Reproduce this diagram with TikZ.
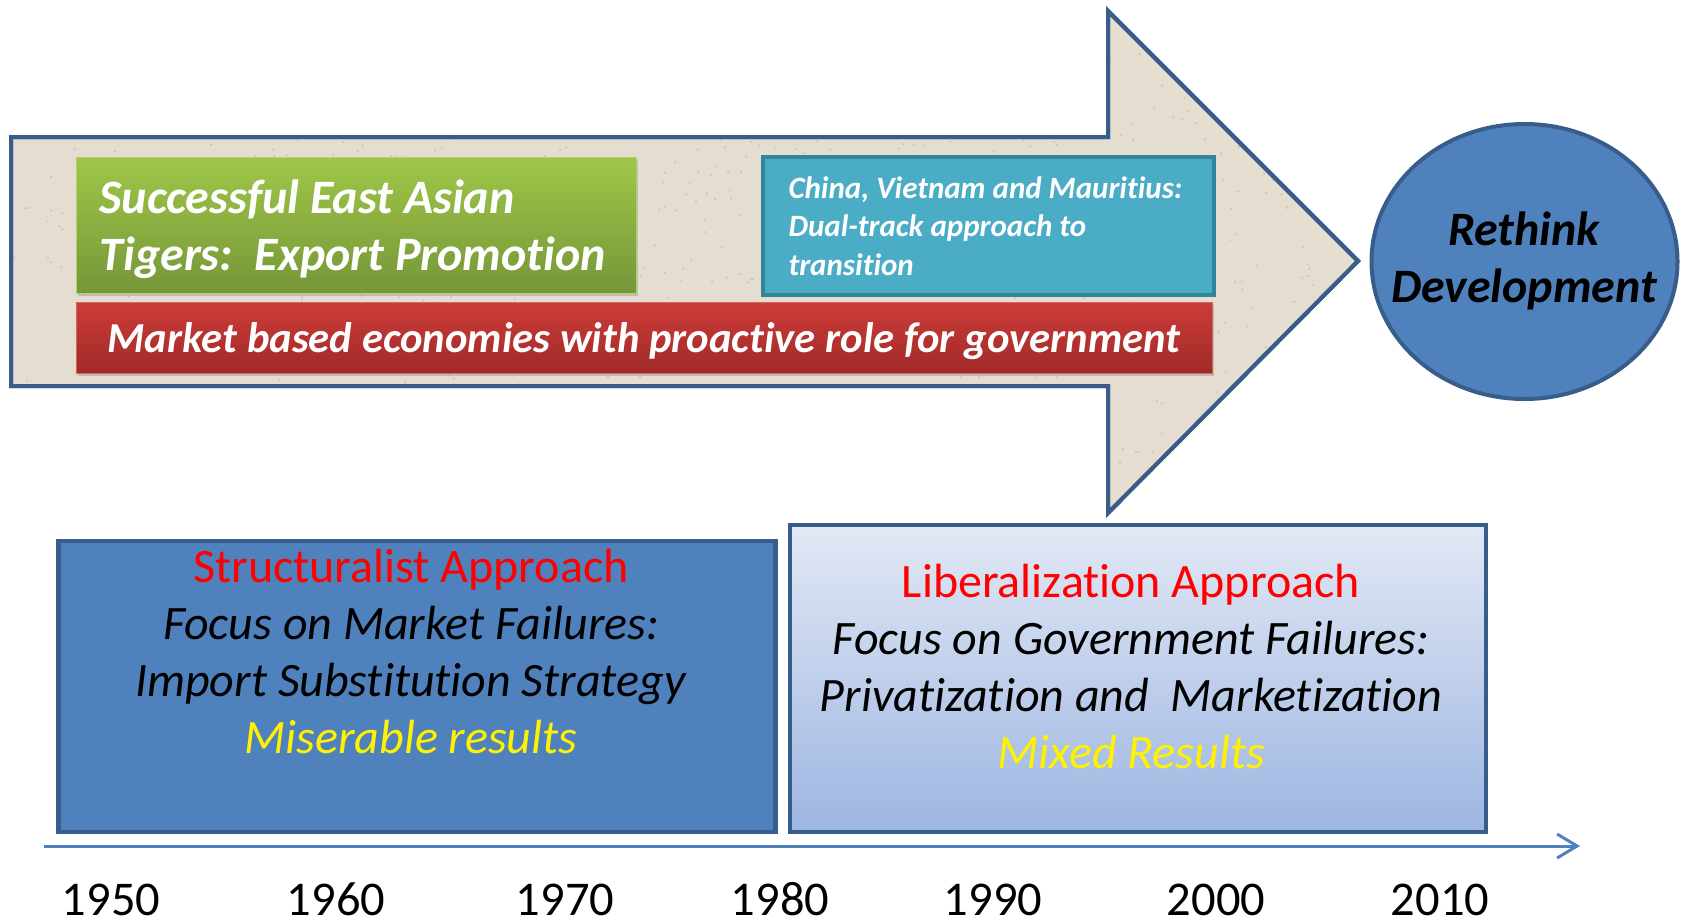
\documentclass[tikz,border=0pt]{standalone}
\usepackage{fontspec}
\setmainfont{Carlito}[Ligatures=NoCommon]
\usetikzlibrary{shapes.geometric,shadows,arrows.meta}
\definecolor{arrowfill}{RGB}{228,221,208}
\definecolor{arrowdot}{RGB}{170,160,145}
\definecolor{darkblue}{RGB}{56,93,138}
\definecolor{midblue}{RGB}{79,129,189}
\definecolor{greentop}{RGB}{158,199,72}
\definecolor{greenbot}{RGB}{118,150,57}
\definecolor{redtop}{RGB}{204,60,56}
\definecolor{redbot}{RGB}{160,42,40}
\definecolor{dualfill}{RGB}{75,172,198}
\definecolor{dualedge}{RGB}{49,133,156}
\definecolor{paletop}{RGB}{226,232,244}
\definecolor{palebot}{RGB}{157,182,226}

\begin{document}
\begin{tikzpicture}[x=1pt, y=-1pt, >={Straight Barb[length=20pt,width=24pt]},
	panel/.style={rectangle, draw=darkblue, line width=4.5pt, inner sep=0pt},
	banner/.style={rectangle, inner sep=0pt, drop shadow={opacity=0.35, shadow xshift=2pt, shadow yshift=-3pt}},
	bigtext/.style={font=\fontsize{48}{57}\selectfont, align=center, anchor=base},
	year/.style={font=\fontsize{48.5}{57}\selectfont, anchor=base}]
	\useasboundingbox (0,0) rectangle (1683,922);
	% the big arrow
	\draw[fill=arrowfill, draw=darkblue, line width=4pt] (11,137) -- (1108,137) -- (1108,11) -- (1358,261) -- (1108,513) -- (1108,386) -- (11,386) -- cycle;
	\begin{scope}
		\clip (11,137) -- (1108,137) -- (1108,11) -- (1358,261) -- (1108,513) -- (1108,386) -- (11,386) -- cycle;
		\pgfmathsetseed{17}
		\foreach \k in {1,...,900}
		\fill[arrowdot, opacity=0.45] ({13+1345*rnd},{13+498*rnd}) circle (1.1);
	\end{scope}
	\draw[draw=darkblue, line width=4pt] (11,137) -- (1108,137) -- (1108,11) -- (1358,261) -- (1108,513) -- (1108,386) -- (11,386) -- cycle;
	% boxes on the arrow
	\node[banner, top color=greentop, bottom color=greenbot, draw=greentop!80!white, line width=1pt, minimum width=560, minimum height=136] (tigers) at (356,225) {};
	\node[banner, top color=redtop, bottom color=redbot, draw=redtop!80!white, line width=1pt, minimum width=1136, minimum height=71] (market) at (644,337.5) {};
	\node[rectangle, fill=dualfill, draw=dualedge, line width=4pt, minimum width=451, minimum height=138] (dual) at (988.5,226) {};
	\node[white, font=\fontsize{48}{57}\selectfont\bfseries\itshape, align=left, anchor=base west] (tigerstext) at (96,270) {Successful East Asian\\Tigers:\ \ Export Promotion};
	\node[white, font=\fontsize{42.7}{50}\selectfont\bfseries\itshape, anchor=base] (markettext) at (644,352) {Market based economies with proactive role for government};
	\node[white, font=\fontsize{31}{38.5}\selectfont\bfseries\itshape, align=left, anchor=base west] (dualtext) at (785,275) {China, Vietnam and Mauritius:\\Dual-track approach to\\transition};
	% rethink
	\node[ellipse, fill=midblue, draw=darkblue, line width=4pt, minimum width=306, minimum height=275] (rethink) at (1524.5,261.5) {};
	\node[font=\fontsize{48}{57}\selectfont\bfseries\itshape, align=center, anchor=base] (rethinktext) at (1524,302) {Rethink\\Development};
	% the two approaches
	\node[panel, fill=midblue, minimum width=717, minimum height=291] (struct) at (417,686.5) {};
	\node[panel, top color=paletop, bottom color=palebot, minimum width=696, minimum height=307] (liberal) at (1138,678.5) {};
	\node[bigtext] (structtext) at (411,753) {\textcolor{red}{Structuralist Approach}\\\textit{Focus on Market Failures:}\\\textit{Import Substitution Strategy}\\\textcolor{yellow}{\textit{Miserable results}}};
	\node[bigtext] (liberaltext) at (1131,768) {\textcolor{red}{Liberalization Approach}\\\textit{Focus on Government Failures:}\\\textit{Privatization and\ \ Marketization}\\\textcolor{yellow}{\textit{Mixed Results}}};
	% time line
	\coordinate (tl start) at (44,846);
	\coordinate (tl end) at (1580,846);
	\draw[->, midblue, line width=3pt] (tl start) -- (tl end);
	\foreach \yr/\xx in {1950/111, 1960/336, 1970/565, 1980/780, 1990/993, 2000/1216, 2010/1440}
	\node[year] (y\yr) at (\xx,915) {\yr};
\end{tikzpicture}
\end{document}
